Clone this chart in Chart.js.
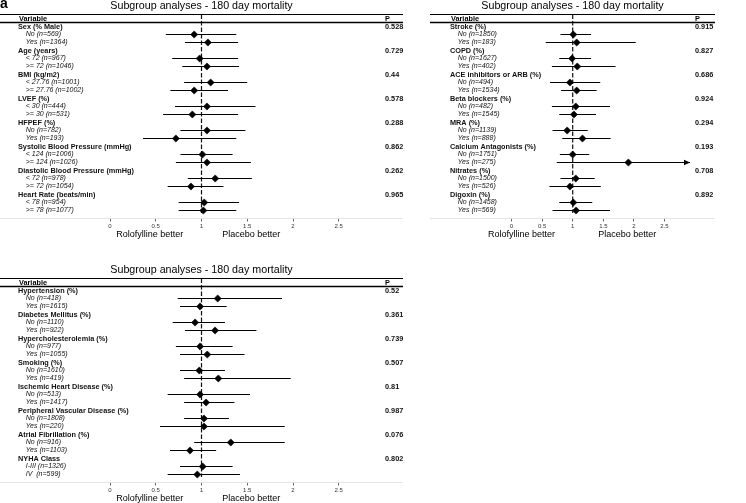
<!DOCTYPE html>
<html><head><meta charset="utf-8">
<script src="https://cdn.jsdelivr.net/npm/chart.js@4.4.1/dist/chart.umd.min.js"></script>
<style>
html,body{margin:0;padding:0;background:#fff;}
#wrap{position:relative;width:746px;height:503px;overflow:hidden;background:#fff;}
#wrap canvas{position:absolute;left:0;top:0;}
</style></head><body>
<div id="wrap">
<canvas id="c1" width="746" height="503"></canvas>
<canvas id="c2" width="746" height="503"></canvas>
<canvas id="c3" width="746" height="503"></canvas>
</div>
<script>
// ---------- texts ----------
const chartTitle = 'Subgroup analyses - 180 day mortality';
const headerVar = 'Variable';
const headerP = 'P';
const leftCaption = 'Rolofylline better';
const rightCaption = 'Placebo better';
const panelTag = 'a';
const xTicks = [0, 0.5, 1, 1.5, 2, 2.5];

// ---------- panel 1 (top left) ----------
const groups1 = ['Sex (% Male)', 'Age (years)', 'BMI (kg/m2)', 'LVEF (%)', 'HFPEF (%)',
  'Systolic Blood Pressure (mmHg)', 'Diastolic Blood Pressure (mmHg)', 'Heart Rate (beats/min)'];
const subs1 = ['No (n=569)', 'Yes (n=1364)', '< 72 (n=967)', '>= 72 (n=1046)',
  '< 27.76 (n=1001)', '>= 27.76 (n=1002)', '< 30 (n=444)', '>= 30 (n=531)',
  'No (n=782)', 'Yes (n=193)', '< 124 (n=1006)', '>= 124 (n=1026)',
  '< 72 (n=978)', '>= 72 (n=1054)', '< 78 (n=954)', '>= 78 (n=1077)'];
const est1 = [0.92, 1.07, 0.98, 1.06, 1.10, 0.92, 1.06, 0.90, 1.06, 0.72, 1.01, 1.06, 1.15, 0.885, 1.03, 1.02];
const lo1  = [0.61, 0.82, 0.68, 0.79, 0.81, 0.66, 0.71, 0.58, 0.77, 0.36, 0.77, 0.72, 0.85, 0.63, 0.75, 0.75];
const hi1  = [1.38, 1.40, 1.40, 1.41, 1.50, 1.29, 1.59, 1.40, 1.48, 1.38, 1.34, 1.54, 1.55, 1.24, 1.41, 1.38];
const p1 = ['0.528', '0.729', '0.44', '0.578', '0.288', '0.862', '0.262', '0.965'];

// ---------- panel 2 (top right) ----------
const groups2 = ['Stroke (%)', 'COPD (%)', 'ACE inhibitors or ARB (%)', 'Beta blockers (%)', 'MRA (%)',
  'Calcium Antagonists (%)', 'Nitrates (%)', 'Digoxin (%)'];
const subs2 = ['No (n=1850)', 'Yes (n=183)', 'No (n=1627)', 'Yes (n=402)', 'No (n=494)', 'Yes (n=1534)',
  'No (n=482)', 'Yes (n=1545)', 'No (n=1139)', 'Yes (n=888)', 'No (n=1751)', 'Yes (n=275)',
  'No (n=1500)', 'Yes (n=526)', 'No (n=1458)', 'Yes (n=569)'];
const est2 = [1.01, 1.065, 0.99, 1.075, 0.955, 1.065, 1.05, 1.02, 0.91, 1.16, 1.00, 1.91, 1.05, 0.955, 1.01, 1.055];
const lo2  = [0.80, 0.56, 0.78, 0.66, 0.63, 0.81, 0.66, 0.78, 0.67, 0.83, 0.79, 0.74, 0.80, 0.62, 0.78, 0.67];
const hi2  = [1.30, 2.03, 1.30, 1.70, 1.45, 1.39, 1.61, 1.38, 1.245, 1.62, 1.27, 3.2, 1.36, 1.46, 1.32, 1.61];
const p2 = ['0.915', '0.827', '0.686', '0.924', '0.294', '0.193', '0.708', '0.892'];

// ---------- panel 3 (bottom left) ----------
const groups3 = ['Hypertension (%)', 'Diabetes Mellitus (%)', 'Hypercholesterolemia (%)', 'Smoking (%)',
  'Ischemic Heart Disease (%)', 'Peripheral Vascular Disease (%)', 'Atrial Fibrillation (%)', 'NYHA Class'];
const subs3 = ['No (n=418)', 'Yes (n=1615)', 'No (n=1110)', 'Yes (n=922)', 'No (n=977)', 'Yes (n=1055)',
  'No (n=1610)', 'Yes (n=419)', 'No (n=513)', 'Yes (n=1417)', 'No (n=1808)', 'Yes (n=220)',
  'No (n=916)', 'Yes (n=1103)', 'I-III (n=1326)', 'IV  (n=599)'];
const est3 = [1.177, 0.984, 0.93, 1.148, 0.984, 1.063, 0.976, 1.184, 0.984, 1.05, 1.027, 1.027, 1.32, 0.874, 1.013, 0.954];
const lo3  = [0.74, 0.765, 0.685, 0.82, 0.72, 0.765, 0.765, 0.81, 0.63, 0.81, 0.81, 0.546, 0.92, 0.656, 0.765, 0.63];
const hi3  = [1.88, 1.275, 1.257, 1.60, 1.34, 1.47, 1.257, 1.975, 1.53, 1.36, 1.30, 1.91, 1.91, 1.16, 1.34, 1.42];
const p3 = ['0.52', '0.361', '0.739', '0.507', '0.81', '0.987', '0.076', '0.802'];

// ---------- builder ----------
const FONT = '"Liberation Sans", Arial, Helvetica, sans-serif';
const INDENT = '    ';

function buildRows(groups, subs, est, lo, hi, pv) {
  const r = {labels: [], isGroup: [], est: [], ci: [], hi: [], p: []};
  groups.forEach((g, k) => {
    r.labels.push(g); r.isGroup.push(true); r.est.push(null); r.ci.push(null); r.hi.push(null); r.p.push(pv[k]);
    for (let j = 0; j < 2; j++) {
      const i = 2 * k + j;
      r.labels.push(INDENT + subs[i]); r.isGroup.push(false); r.est.push(est[i]);
      r.ci.push([lo[i], hi[i]]); r.hi.push(hi[i]); r.p.push('');
    }
  });
  // spare row that carries the axis
  r.labels.push(''); r.isGroup.push(false); r.est.push(null); r.ci.push(null); r.hi.push(null); r.p.push('');
  return r;
}

function forestPlugin(g, rows) {
  return {
    id: 'forest',
    beforeDatasetsDraw(chart) {
      const {ctx, chartArea: a, scales: {x}} = chart;
      const one = x.getPixelForValue(1);
      ctx.save();
      ctx.strokeStyle = '#e4e4e4'; ctx.lineWidth = 1;
      ctx.beginPath(); ctx.moveTo(g.x0, a.bottom); ctx.lineTo(g.x1, a.bottom); ctx.stroke();
      ctx.strokeStyle = '#111'; ctx.lineWidth = 1.2; ctx.setLineDash([4.5, 2]);
      ctx.beginPath(); ctx.moveTo(one, a.top - 12); ctx.lineTo(one, a.bottom - 5.5); ctx.stroke();
      ctx.restore();
    },
    afterDraw(chart) {
      const {ctx, chartArea: a, scales: {x, y}} = chart;
      ctx.save();
      ctx.fillStyle = '#000'; ctx.strokeStyle = '#000';
      ctx.font = '10.7px ' + FONT; ctx.textAlign = 'center'; ctx.textBaseline = 'middle';
      ctx.fillText(chartTitle, (g.x0 + g.x1) / 2, a.top - 20);
      ctx.lineWidth = 1;
      ctx.beginPath(); ctx.moveTo(g.x0, a.top - 12); ctx.lineTo(g.x1, a.top - 12); ctx.stroke();
      ctx.lineWidth = 1.6;
      ctx.beginPath(); ctx.moveTo(g.x0, a.top - 4); ctx.lineTo(g.x1, a.top - 4); ctx.stroke();
      ctx.font = 'bold 7.3px ' + FONT; ctx.textAlign = 'left';
      ctx.fillText(headerVar, a.left + 1, a.top - 8);
      ctx.fillText(headerP, a.right + 5, a.top - 8);
      ctx.font = '9px ' + FONT;
      const one = x.getPixelForValue(1);
      ctx.textAlign = 'right'; ctx.fillText(leftCaption, one - g.gapL, a.bottom + 16);
      ctx.textAlign = 'left'; ctx.fillText(rightCaption, one + g.gapR, a.bottom + 16);
      rows.hi.forEach((h, i) => {
        if (h != null && h > x.max) {
          const py = y.getPixelForValue(i);
          const tip = x.getPixelForValue(x.max);
          ctx.beginPath(); ctx.moveTo(tip, py); ctx.lineTo(tip - 6, py - 2.8); ctx.lineTo(tip - 6, py + 2.8);
          ctx.closePath(); ctx.fill();
        }
      });
      if (g.tag) {
        ctx.font = 'bold 14px ' + FONT; ctx.textAlign = 'left'; ctx.textBaseline = 'alphabetic';
        ctx.fillText(g.tag, 0, 8);
      }
      ctx.restore();
    }
  };
}

function makePanel(id, rows, g) {
  const areaLeft = g.padLeft;
  const xMin = (areaLeft - g.zeroPx) / g.unitPx;
  const xMax = (g.areaRight - g.zeroPx) / g.unitPx;
  const padRight = 746 - g.areaRight - g.pW;
  return new Chart(document.getElementById(id), {
    type: 'bar',
    data: {
      labels: rows.labels,
      datasets: [
        {type: 'bar', indexAxis: 'y', data: rows.ci, backgroundColor: '#000', borderWidth: 0,
         barThickness: 1, inflateAmount: 0, xAxisID: 'x', yAxisID: 'y', order: 2},
        {type: 'line', indexAxis: 'y', data: rows.est, showLine: false, pointStyle: 'rectRot',
         pointRadius: 3.6, pointBackgroundColor: '#000', pointBorderColor: '#000', pointBorderWidth: 0.6,
         xAxisID: 'x', yAxisID: 'y', order: 1}
      ]
    },
    options: {
      indexAxis: 'y', responsive: false, animation: false, devicePixelRatio: 1,
      events: [],
      layout: {padding: {left: g.padLeft, right: padRight, top: g.padTop, bottom: g.padBottom}},
      plugins: {legend: {display: false}, tooltip: {enabled: false}, title: {display: false}},
      scales: {
        x: {
          type: 'linear', position: 'bottom', min: xMin, max: xMax,
          afterBuildTicks: s => { s.ticks = xTicks.map(v => ({value: v})); },
          afterFit: s => { s.height = 20; },
          grid: {display: true, drawOnChartArea: false, drawTicks: true, tickLength: 3, color: '#666', lineWidth: 1},
          border: {display: false},
          ticks: {font: {family: FONT, size: 6}, color: '#333', padding: 1, maxRotation: 0, autoSkip: false,
                  callback: v => String(v)}
        },
        y: {
          type: 'category', position: 'left', offset: false,
          afterFit: s => { s.width = 0; },
          grid: {display: false, drawTicks: false}, border: {display: false},
          ticks: {
            autoSkip: false, mirror: true, crossAlign: 'near', padding: 0, color: '#111',
            font: c => rows.isGroup[c.index]
              ? {family: FONT, size: 7.3, weight: 'bold'}
              : {family: FONT, size: 7, style: 'italic'}
          }
        },
        p: {
          type: 'category', axis: 'y', position: 'right', labels: rows.p, offset: false,
          afterFit: s => { s.width = g.pW; },
          grid: {display: false, drawTicks: false}, border: {display: false},
          ticks: {autoSkip: false, crossAlign: 'near', padding: 5, color: '#111',
                  font: {family: FONT, size: 7.3, weight: 'bold'}}
        }
      }
    },
    plugins: [forestPlugin(g, rows)]
  });
}

const rows1 = buildRows(groups1, subs1, est1, lo1, hi1, p1);
const rows2 = buildRows(groups2, subs2, est2, lo2, hi2, p2);
const rows3 = buildRows(groups3, subs3, est3, lo3, hi3, p3);

makePanel('c1', rows1, {padLeft: 18, areaRight: 380, pW: 30, padTop: 26.5, padBottom: 264.5,
  zeroPx: 110, unitPx: 91.5, x0: 0, x1: 403, gapL: 18.3, gapR: 20.7, tag: panelTag});
makePanel('c2', rows2, {padLeft: 450, areaRight: 690, pW: 30, padTop: 26.5, padBottom: 264.5,
  zeroPx: 511.5, unitPx: 61.2, x0: 430, x1: 715, gapL: 17.7, gapR: 25.6});
makePanel('c3', rows3, {padLeft: 18, areaRight: 380, pW: 30, padTop: 290.5, padBottom: 0.5,
  zeroPx: 110, unitPx: 91.5, x0: 0, x1: 403, gapL: 18.3, gapR: 20.7});
</script>
</body></html>
